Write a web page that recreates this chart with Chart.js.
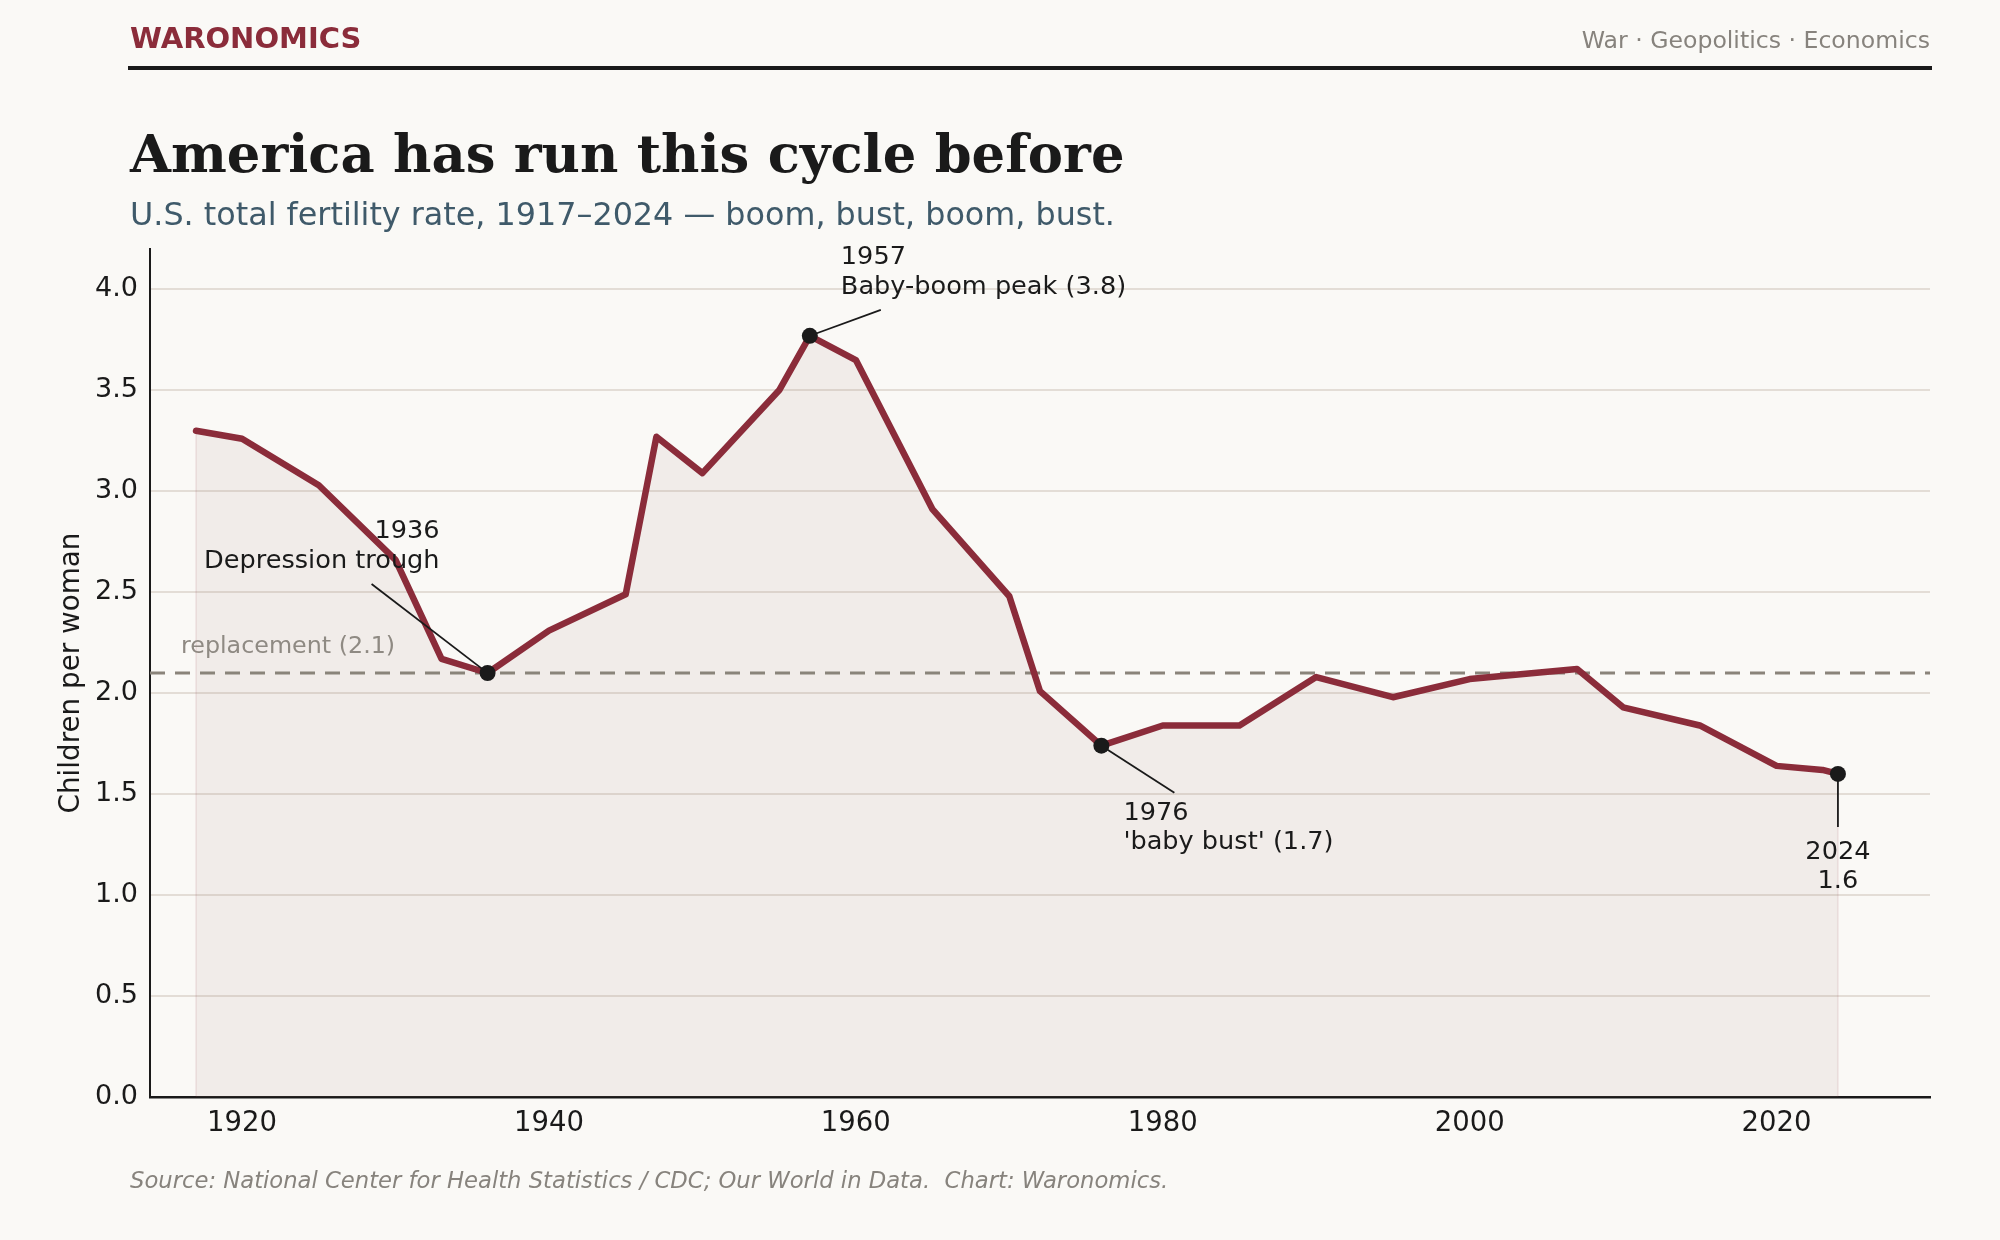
<!DOCTYPE html>
<html><head><meta charset="utf-8">
<script src="https://cdn.jsdelivr.net/npm/chart.js@4.4.1/dist/chart.umd.min.js"></script>
<style>html,body{margin:0;padding:0;background:#faf9f6;}canvas{display:block;}</style>
</head><body>
<canvas id="c" width="2000" height="1240"></canvas>
<script>
// ---- data ----
const years = [1917,1920,1925,1930,1933,1936,1940,1945,1947,1950,1955,1957,1960,1965,1970,1972,1976,1980,1985,1990,1995,2000,2007,2010,2015,2020,2023,2024];
const tfr   = [3.30,3.26,3.03,2.66,2.17,2.10,2.31,2.49,3.27,3.09,3.50,3.77,3.65,2.91,2.48,2.01,1.74,1.84,1.84,2.08,1.98,2.07,2.12,1.93,1.84,1.64,1.62,1.60];
const highlightYears = [1936,1957,1976,2024];
const annotationTexts = [["1936","Depression trough"],["1957","Baby-boom peak (3.8)"],["1976","'baby bust' (1.7)"],["2024","1.6"]];
const replacementRate = 2.1;
const replacementLabel = "replacement (2.1)";
const xLimits = [1914, 2030];
const yLimits = [0, 4.2];
const xTickValues = [1920,1940,1960,1980,2000,2020];
const yTickValues = [0,0.5,1.0,1.5,2.0,2.5,3.0,3.5,4.0];
const brand = "WARONOMICS";
const tagline = "War · Geopolitics · Economics";
const titleText = "America has run this cycle before";
const subtitleText = "U.S. total fertility rate, 1917–2024 — boom, bust, boom, bust.";
const sourceText = "Source: National Center for Health Statistics / CDC; Our World in Data.  Chart: Waronomics.";
const yAxisTitle = "Children per woman";

// ---- styles ----
const RED = '#8b2c3a', INK = '#1a1a1a', GRAY = '#87837d', BG = '#faf9f6';
const SANS = '"DejaVu Sans", sans-serif';
const annoLayout = [
  {align:'right',  tx:-48, ty:[-142,-112], lx:-116, ly:-89},
  {align:'left',   tx:31,  ty:[-78,-48],   lx:71,   ly:-26},
  {align:'left',   tx:22,  ty:[68,97],     lx:73,   ly:47},
  {align:'center', tx:0,   ty:[78,107],    lx:0,    ly:53}
];

const mainData = years.map((y,i)=>({x:y, y:tfr[i]}));
const hiData = highlightYears.map(y=>({x:y, y:tfr[years.indexOf(y)]}));
const repData = xLimits.map(x=>({x:x, y:replacementRate}));

const headerPlugin = {
  id:'header',
  beforeDraw(chart){
    const ctx = chart.ctx;
    ctx.save();
    ctx.fillStyle = BG; ctx.fillRect(0,0,chart.width,chart.height);
    ctx.textBaseline = 'alphabetic';
    ctx.fillStyle = RED; ctx.font = 'bold 29px '+SANS; ctx.textAlign='left';
    ctx.fillText(brand, 130, 48);
    ctx.fillStyle = GRAY; ctx.font = '23.6px '+SANS; ctx.textAlign='right';
    ctx.fillText(tagline, 1930, 48);
    ctx.fillStyle = INK; ctx.fillRect(128, 66, 1804, 4);
    ctx.textAlign='left';
    ctx.fillStyle = INK; ctx.font = 'bold 52.8px "DejaVu Serif", serif';
    ctx.fillText(titleText, 130, 172);
    ctx.fillStyle = '#3f5a6a'; ctx.font = '31.8px '+SANS;
    ctx.fillText(subtitleText, 130, 225);
    ctx.fillStyle = GRAY; ctx.font = 'italic 22.7px '+SANS;
    ctx.fillText(sourceText, 130, 1188);
    ctx.restore();
  },
  beforeDatasetsDraw(chart){
    const ctx = chart.ctx, xs = chart.scales.x, ys = chart.scales.y;
    ctx.save();
    ctx.strokeStyle = 'rgba(139,44,58,0.08)'; ctx.lineWidth = 2;
    [0, years.length-1].forEach(i=>{
      const px = xs.getPixelForValue(years[i]);
      ctx.beginPath(); ctx.moveTo(px, ys.getPixelForValue(0)); ctx.lineTo(px, ys.getPixelForValue(tfr[i])); ctx.stroke();
    });
    ctx.fillStyle = '#8f8a83'; ctx.font = '23.8px '+SANS; ctx.textAlign='left'; ctx.textBaseline='middle';
    ctx.fillText(replacementLabel, 181, ys.getPixelForValue(replacementRate) - 26);
    ctx.restore();
  },
  afterDatasetsDraw(chart){
    const ctx = chart.ctx, xs = chart.scales.x, ys = chart.scales.y;
    ctx.save();
    hiData.forEach((p,i)=>{
      const L = annoLayout[i];
      const px = xs.getPixelForValue(p.x), py = ys.getPixelForValue(p.y);
      const sx = px + L.lx, sy = py + L.ly;
      const d = Math.hypot(L.lx, L.ly);
      ctx.strokeStyle = INK; ctx.lineWidth = 1.8;
      ctx.beginPath(); ctx.moveTo(sx, sy); ctx.lineTo(px + L.lx/d*6, py + L.ly/d*6); ctx.stroke();
      ctx.fillStyle = INK; ctx.font = '25.6px '+SANS; ctx.textAlign = L.align; ctx.textBaseline='middle';
      annotationTexts[i].forEach((t,j)=> ctx.fillText(t, px + L.tx, py + L.ty[j]));
    });
    ctx.restore();
  }
};

new Chart(document.getElementById('c'), {
  type:'line',
  data:{datasets:[
    {data:hiData, type:'scatter', order:0, pointRadius:8, pointBackgroundColor:INK, pointBorderWidth:0, showLine:false},
    {data:mainData, order:1, borderColor:RED, borderWidth:6.5, pointRadius:0, tension:0, fill:'origin',
     backgroundColor:'rgba(170,130,115,0.1)', borderJoinStyle:'round', borderCapStyle:'round'},
    {data:repData, order:2, borderColor:'#8a847a', borderWidth:3, borderDash:[15,10], pointRadius:0, fill:false}
  ]},
  options:{
    responsive:false, animation:false, devicePixelRatio:1,
    layout:{padding:{top:249, right:70, left:0, bottom:0}},
    plugins:{legend:{display:false}, tooltip:{enabled:false}, filler:{drawTime:'beforeDatasetsDraw'}},
    scales:{
      x:{type:'linear', min:xLimits[0], max:xLimits[1],
         afterBuildTicks(s){ s.ticks = xTickValues.map(v=>({value:v})); },
         afterFit(s){ s.height = 143; },
         grid:{display:false, drawTicks:false},
         border:{display:true, color:INK, width:2.5},
         ticks:{color:INK, font:{family:SANS, size:27.5}, padding:10, maxRotation:0, autoSkip:false, callback:v=>String(v)}},
      y:{type:'linear', min:yLimits[0], max:yLimits[1],
         afterBuildTicks(s){ s.ticks = yTickValues.map(v=>({value:v})); },
         afterFit(s){ s.width = 150; },
         grid:{color:'#e3ddd6', lineWidth:2, drawTicks:false},
         border:{display:true, color:INK, width:2},
         title:{display:true, text:yAxisTitle, color:INK, font:{family:SANS, size:27.8}, padding:{top:55, bottom:0}},
         ticks:{color:INK, font:{family:SANS, size:27}, padding:12, callback:v=>v.toFixed(1)}}
    }
  },
  plugins:[headerPlugin]
});
</script>
</body></html>
